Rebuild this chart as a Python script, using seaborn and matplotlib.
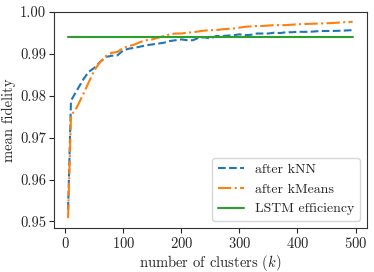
import matplotlib
matplotlib.use("Agg")
import numpy as np
import pandas as pd
import matplotlib.pyplot as plt
import seaborn as sns

# Data
clusters = [5, 10, 20, 30, 40, 50, 60, 70, 80, 90, 100, 110, 120, 130, 140, 150,
            160, 170, 180, 190, 200, 210, 220, 230, 240, 250, 260, 270, 280, 290,
            300, 310, 320, 330, 340, 350, 360, 370, 380, 390, 400, 420, 440, 460,
            480, 495]
knn_fid = [0.9528, 0.9788, 0.9812, 0.9836, 0.9856, 0.9866, 0.9880, 0.9892, 0.9895,
           0.9896, 0.9908, 0.9912, 0.9914, 0.9917, 0.9920, 0.9922, 0.9924, 0.9926,
           0.9930, 0.9932, 0.9934, 0.9932, 0.9932, 0.9938, 0.9939, 0.9936, 0.9942,
           0.9942, 0.9943, 0.9944, 0.9946, 0.9944, 0.9945, 0.9948, 0.9948, 0.9948,
           0.9950, 0.9949, 0.9951, 0.9951, 0.9952, 0.9952, 0.9954, 0.9954, 0.9955,
           0.9956]
kmeans_fid = [0.9508, 0.9752, 0.9772, 0.9800, 0.9830, 0.9860, 0.9880, 0.9894,
              0.9902, 0.9904, 0.9914, 0.9918, 0.9922, 0.9928, 0.9932, 0.9934,
              0.9938, 0.9942, 0.9946, 0.9948, 0.9948, 0.9950, 0.9951, 0.9953,
              0.9955, 0.9956, 0.9956, 0.9958, 0.9959, 0.9960, 0.9962, 0.9964,
              0.9965, 0.9966, 0.9966, 0.9967, 0.9968, 0.9968, 0.9968, 0.9969,
              0.9970, 0.9971, 0.9972, 0.9973, 0.9975, 0.9976]
lstm_eff = 0.994

sns.set_style("ticks")
plt.rcParams['font.family'] = 'serif'
plt.rcParams['font.serif'] = ['cmr10']
plt.rcParams['mathtext.fontset'] = 'cm'
plt.rcParams['axes.formatter.use_mathtext'] = True
plt.rcParams['axes.unicode_minus'] = False

df = pd.DataFrame({"k": clusters, "after kNN": knn_fid, "after kMeans": kmeans_fid})

fig = plt.figure(figsize=(3.74, 2.72), dpi=100)
ax = fig.add_axes([0.144, 0.162, 0.837, 0.795])

sns.lineplot(data=df, x="k", y="after kNN", ax=ax, color="#1f77b4",
             linestyle="--", linewidth=1.5, label="after kNN")
sns.lineplot(data=df, x="k", y="after kMeans", ax=ax, color="#ff7f0e",
             linestyle="-.", linewidth=1.5, label="after kMeans")
sns.lineplot(x=[clusters[0], clusters[-1]], y=[lstm_eff, lstm_eff], ax=ax,
             color="#2ca02c", linewidth=1.5, label="LSTM efficiency")

ax.set_xlabel(r"number of clusters ($k$)", fontsize=10.5, labelpad=2)
ax.set_ylabel("mean fidelity", fontsize=10.5, labelpad=3)
ax.set_yticks([0.95, 0.96, 0.97, 0.98, 0.99, 1.00])
ax.set_yticklabels(["0.95", "0.96", "0.97", "0.98", "0.99", "1.00"])
ax.set_xticks([0, 100, 200, 300, 400, 500])
ax.tick_params(labelsize=10.5, length=3.5, pad=2)
for s in ax.spines.values():
    s.set_color("#333333")
ax.legend(loc="lower right", fontsize=10, frameon=True, fancybox=True,
          framealpha=0.8, edgecolor="#cccccc", handlelength=1.9)

plt.savefig("out.png", dpi=100)
